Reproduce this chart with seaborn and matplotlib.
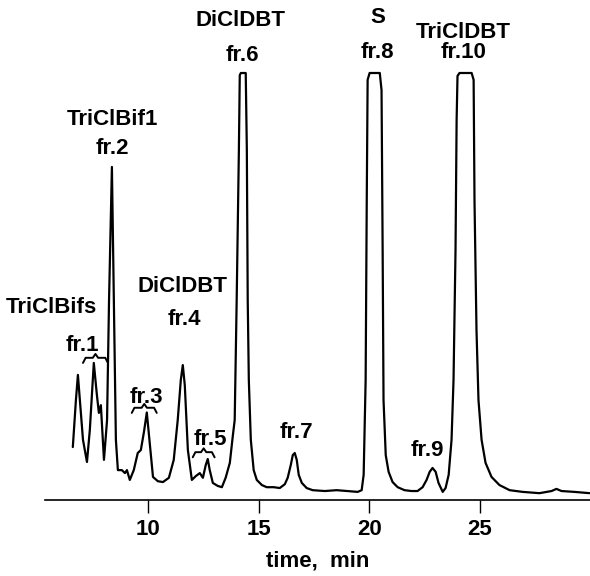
import numpy as np
import pandas as pd
import matplotlib
matplotlib.use("Agg")
import matplotlib.pyplot as plt
import seaborn as sns

# ---- chromatogram trace (time in min, detector signal in % of full scale) ----
time_min = [6.58, 6.72, 6.81, 6.90, 7.04, 7.22, 7.35, 7.53, 7.67, 7.76, 7.85, 7.99,
            8.13, 8.22, 8.35, 8.44, 8.53, 8.62, 8.80, 8.94, 9.03, 9.16, 9.34, 9.52,
            9.66, 9.80, 9.93, 10.07, 10.21, 10.43, 10.66, 10.93, 11.15, 11.33, 11.47,
            11.56, 11.65, 11.79, 11.97, 12.15, 12.33, 12.47, 12.60, 12.69, 12.78, 12.92,
            13.14, 13.33, 13.50, 13.69, 13.82, 13.91, 14.00, 14.10, 14.14, 14.19, 14.41,
            14.46, 14.50, 14.55, 14.64, 14.77, 14.91, 15.14, 15.36, 15.68, 15.95, 16.18,
            16.31, 16.45, 16.54, 16.63, 16.72, 16.81, 16.95, 17.17, 17.44, 17.99, 18.53,
            19.03, 19.48, 19.66, 19.75, 19.84, 19.89, 19.93, 20.02, 20.48, 20.56, 20.61,
            20.65, 20.75, 20.88, 21.06, 21.29, 21.60, 21.92, 22.19, 22.42, 22.60, 22.74,
            22.87, 23.01, 23.14, 23.33, 23.46, 23.60, 23.73, 23.82, 23.91, 23.96, 24.00,
            24.09, 24.64, 24.73, 24.77, 24.86, 24.95, 25.09, 25.27, 25.54, 25.90, 26.36,
            26.95, 27.71, 28.26, 28.48, 28.71, 29.29, 29.98]
signal = [12.4, 23.4, 29.3, 23.4, 14.1, 8.9, 16.4, 32.1, 24.6, 20.4, 22.2, 9.4,
          18.7, 46.8, 78.0, 46.8, 14.1, 7.0, 7.0, 6.3, 7.0, 4.7, 7.0, 11.0,
          11.7, 15.9, 20.5, 12.9, 5.4, 4.4, 4.2, 5.2, 9.4, 18.7, 28.1,
          31.6, 26.9, 11.7, 4.7, 5.6, 6.3, 5.2, 8.2, 9.6, 7.0, 4.0,
          3.3, 3.0, 5.2, 8.7, 14.8, 18.7, 46.8, 82.0, 99.5, 100.0, 100.0,
          82.0, 46.8, 28.1, 14.1, 7.0, 4.7, 3.5, 3.0, 3.0, 2.8, 3.7,
          5.2, 8.2, 10.5, 11.0, 9.4, 5.9, 4.0, 2.8, 2.3, 2.1, 2.3,
          2.1, 1.9, 2.3, 5.9, 28.1, 70.0, 98.4, 100.0, 100.0, 96.0, 58.5,
          23.4, 10.5, 6.6, 4.2, 3.0, 2.3, 2.1, 2.1, 3.0, 4.7, 6.6,
          7.5, 6.6, 4.0, 1.9, 2.8, 5.9, 14.1, 28.1, 58.5, 89.0, 99.3,
          100.0, 100.0, 98.4, 70.0, 39.8, 23.4, 14.1, 8.7, 5.4, 3.5, 2.3,
          1.9, 1.6, 2.1, 2.6, 2.1, 1.9, 1.6]

# ---- peak labels ----
label_text = ["TriClBifs", "fr.1", "TriClBif1", "fr.2", "DiClDBT", "fr.4", "fr.3",
              "fr.5", "DiClDBT", "fr.6", "fr.7", "S", "fr.8", "fr.9", "TriClDBT", "fr.10"]
label_t = [5.62, 7.00, 8.39, 8.35, 11.55, 11.61, 9.89,
           12.83, 14.19, 14.28, 16.72, 20.38, 20.38, 22.65, 24.28, 24.28]
label_s = [45.0, 36.2, 89.0, 82.4, 49.9, 42.2, 24.0,
           14.1, 112.2, 104.2, 15.7, 112.9, 104.7, 11.7, 109.4, 104.7]

# ---- fraction collection brackets ----
bracket_start = [7.04, 9.25, 12.01]
bracket_end = [8.17, 10.38, 13.00]
bracket_level = [33.3, 21.6, 11.2]

x_ticks = [10, 15, 20, 25]

df = pd.DataFrame({"time": time_min, "signal": signal})

sns.set_theme(style="white")
plt.rcParams["font.family"] = ["Liberation Sans", "DejaVu Sans"]

W, H = 590, 576
fig = plt.figure(figsize=(W / 100, H / 100), dpi=100)
ax = fig.add_axes([45 / W, (H - 500) / H, 545 / W, 427 / H])

sns.lineplot(data=df, x="time", y="signal", sort=False, estimator=None,
             color="black", linewidth=1.6, ax=ax, clip_on=False)

ax.set_xlim(5.32, 30.0)
ax.set_ylim(0, 100)

for sp in ["top", "right", "left"]:
    ax.spines[sp].set_visible(False)
ax.spines["bottom"].set_color("black")
ax.spines["bottom"].set_linewidth(1.2)

FS = 16
ax.set_xticks(x_ticks)
ax.set_xticklabels([str(v) for v in x_ticks], fontsize=FS, fontweight="bold")
ax.set_yticks([])
ax.tick_params(axis="x", direction="out", length=9.5, width=1.0, color="black",
               bottom=True, pad=4, labelcolor="black")
ax.set_xlabel("time,  min", fontsize=FS, fontweight="bold", color="black", labelpad=8)
ax.set_ylabel("")

for txt, tx, ty in zip(label_text, label_t, label_s):
    ax.text(tx, ty, txt, ha="center", va="center", fontsize=FS, fontweight="bold",
            color="black", clip_on=False)

for t0, t1, lv in zip(bracket_start, bracket_end, bracket_level):
    mid = (t0 + t1) / 2
    hook = 0.12
    bx = [t0, t0 + hook, mid - hook, mid, mid + hook, t1 - hook, t1]
    by = [lv - 1.2, lv, lv, lv + 0.9, lv, lv, lv - 1.2]
    ax.plot(bx, by, color="black", linewidth=1.4, clip_on=False)

fig.savefig("out.png", dpi=100)
